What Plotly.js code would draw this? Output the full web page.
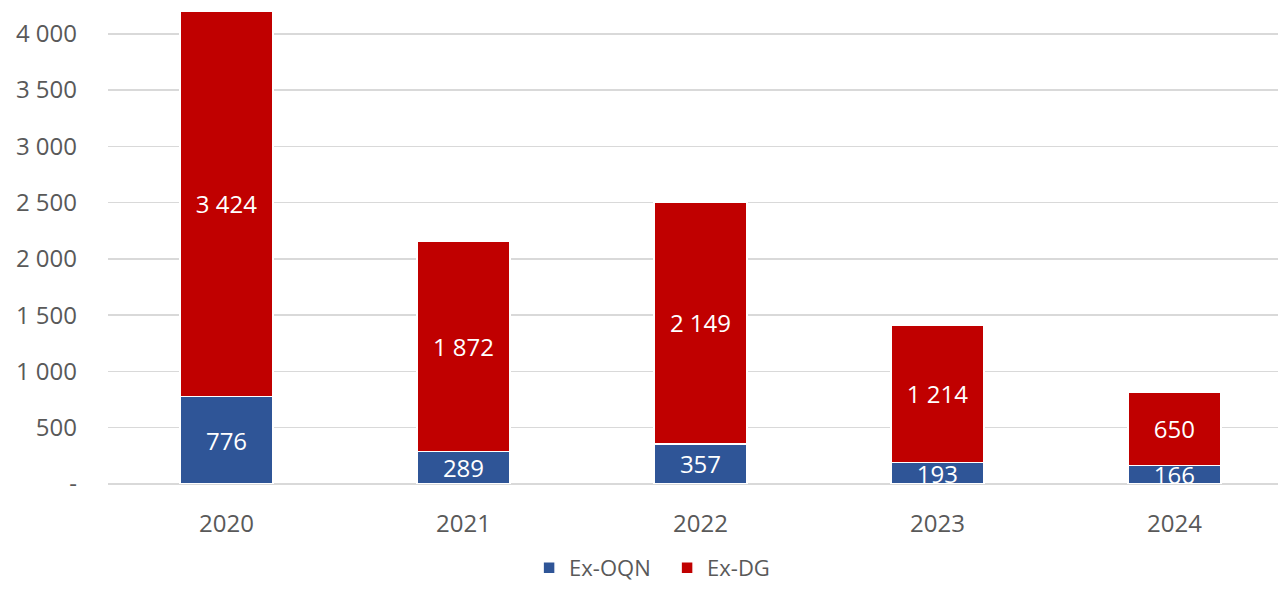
<!DOCTYPE html>
<html>
<head>
<meta charset="utf-8">
<script src="https://cdn.plot.ly/plotly-3.0.1.min.js"></script>
<style>html,body{margin:0;padding:0;background:#fff;}#chart{width:1278px;height:589px;}</style>
</head>
<body>
<div id="chart"></div>
<script>
const years = ["2020", "2021", "2022", "2023", "2024"];
const exOQN = [776, 289, 357, 193, 166];
const exDG = [3424, 1872, 2149, 1214, 650];
const yTickVals = [0, 500, 1000, 1500, 2000, 2500, 3000, 3500, 4000];
const yTickText = ["-", "500", "1 000", "1 500", "2 000", "2 500", "3 000", "3 500", "4 000"];

const FONT = "Open Sans, Noto Sans, sans-serif";
const common = {
  type: "bar",
  x: years,
  width: 0.392,
  textposition: "inside",
  insidetextanchor: "middle",
  constraintext: "none",
  texttemplate: "%{y:,}",
  textfont: {family: FONT, size: 24, color: "#ffffff"},
  hoverinfo: "skip",
  cliponaxis: true
};
const traces = [
  Object.assign({}, common, {name: "Ex-OQN", y: exOQN,
    marker: {color: "#2f5597", line: {color: "#ffffff", width: 1.5}}}),
  Object.assign({}, common, {name: "Ex-DG", y: exDG,
    marker: {color: "#c00000", line: {color: "#ffffff", width: 1.5}}})
];
const layout = {
  width: 1278, height: 589,
  margin: {l: 108, r: 0, t: 0, b: 105},
  barmode: "stack",
  separators: ", ",
  paper_bgcolor: "#ffffff",
  plot_bgcolor: "#ffffff",
  font: {family: FONT, color: "#595959"},
  xaxis: {
    type: "category",
    range: [-0.5, 4.437],
    showgrid: false, zeroline: false, showline: false,
    ticks: "", ticklabelstandoff: 23,
    tickfont: {family: FONT, size: 24, color: "#595959"}
  },
  yaxis: {
    range: [0, 4300],
    tickvals: yTickVals, ticktext: yTickText,
    showgrid: true, gridcolor: "#d9d9d9", gridwidth: 1.5,
    zeroline: true, zerolinecolor: "#d9d9d9", zerolinewidth: 1.5,
    showline: false, ticks: "", ticklabelstandoff: 30,
    tickfont: {family: FONT, size: 24, color: "#595959"}
  },
  showlegend: true,
  legend: {
    orientation: "h",
    xref: "container", x: 0.414, xanchor: "left",
    yref: "container", y: -0.012, yanchor: "bottom",
    entrywidth: 93, entrywidthmode: "pixels",
    font: {family: FONT, size: 22, color: "#595959"},
    traceorder: "normal"
  }
};
Plotly.newPlot("chart", traces, layout, {staticPlot: true, displayModeBar: false});
</script>
</body>
</html>
